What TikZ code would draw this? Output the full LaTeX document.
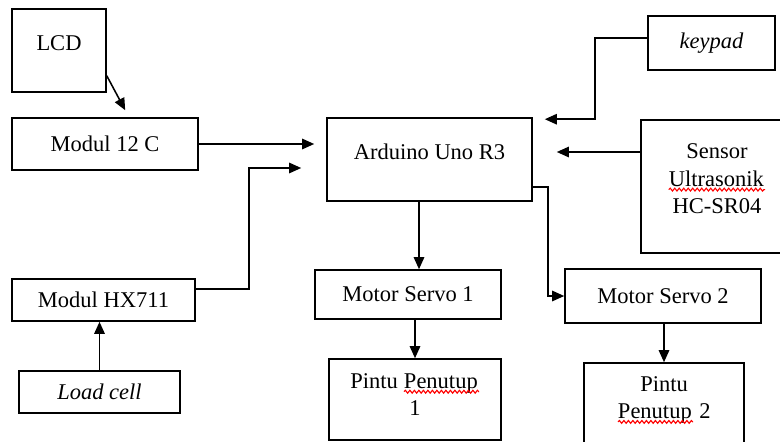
\documentclass[tikz,border=0pt]{standalone}
\usepackage{fontspec}
\setmainfont{Liberation Serif}
\usetikzlibrary{arrows.meta, calc, decorations.pathmorphing}
\tikzset{
	blk/.style  ={rectangle, draw=black, line width=1.1pt, align=center, inner sep=2pt},
	sig/.style  ={-{Triangle[length=3mm, width=2.6mm]}, line width=1.1pt},
	squig/.style={red, line width=0.8pt, decorate, decoration={snake, amplitude=1pt, segment length=3.2pt}},
}
% word marked by the spell checker
\newcommand{\typo}[1]{\tikz[baseline=(w.base)]{\node[draw=none, inner sep=0pt, outer sep=0pt, minimum width=0pt, minimum height=0pt, text depth=, text height=] (w) {#1}; \draw[squig] ([yshift=-2.4pt]w.base west) -- ([yshift=-2.4pt,xshift=1pt]w.base east);}}

\begin{document}
\begin{tikzpicture}[x=0.025cm, y=-0.025cm, font=\fontsize{16}{19.5}\selectfont]
	\clip (0,0) rectangle (780,441);
	\fill[white] (0,0) rectangle (780,441);
	\node[blk, minimum width=2.35cm, minimum height=2.075cm, text depth=10.5pt] (lcd) at (59,50.5) {LCD};
	\node[blk, minimum width=4.65cm, minimum height=1.3cm] (i2c) at (105,144) {Modul 12 C};
	\node[blk, minimum width=5.125cm, minimum height=2.075cm, text depth=10.5pt] (ard) at (429.5,159.5) {Arduino Uno R3};
	\node[blk, minimum width=3.175cm, minimum height=1.35cm] (keypad) at (711.5,43) {\textit{keypad}};
	\node[blk, minimum width=3.8cm, minimum height=3.325cm, text depth=11pt] (sensor) at (717,186.5) {Sensor\\\typo{Ultrasonik}\\HC-SR04};
	\node[blk, minimum width=4.575cm, minimum height=1.05cm] (hx) at (103.5,300) {Modul HX711};
	\node[blk, minimum width=4.025cm, minimum height=1.05cm] (load) at (99.5,392) {\textit{Load cell}};
	\node[blk, minimum width=4.65cm, minimum height=1.225cm] (s1) at (408,294.5) {Motor Servo 1};
	\node[blk, minimum width=4.9cm, minimum height=1.35cm] (s2) at (663,296) {Motor Servo 2};
	\node[blk, minimum width=4.3cm, minimum height=2.025cm, text depth=7pt] (p1) at (415,399.5) {Pintu \typo{Penutup}\\1};
	\node[blk, minimum width=4cm, minimum height=2.175cm, text depth=13pt] (p2) at (664,406.5) {Pintu\\\typo{Penutup} 2};

	\draw[sig] ($(lcd.south east)+(0,-17)$) -- ($(i2c.north west)+(114,-7)$);
	\draw[sig] (i2c.east) -- ($(ard.west |- i2c.east)+(-12,0)$);
	\draw[sig] ($(hx.east)+(0,-11)$) -- ++(53,0) |- ($(ard.west)+(-25,8.5)$);
	\draw[sig] (load.north) -- (load.north |- hx.south);
	\draw[sig] ($(keypad.west)+(0,-5)$) -- ++(-52,0) |- ($(ard.north east)+(12,2)$);
	\draw[sig] ($(sensor.west)+(0,-34.5)$) -- ($(ard.east |- sensor.west)+(24,-34.5)$);
	\draw[sig] ([xshift=-0.2625cm]ard.south) -- ([xshift=-0.2625cm]ard.south |- s1.north);
	\draw[sig] ($(ard.east)+(0,27.5)$) -- ++(15,0) |- (s2.west);
	\draw[sig] (s1.south -| p1.north) -- (p1.north);
	\draw[sig] (s2.south -| p2.north) -- (p2.north);
\end{tikzpicture}
\end{document}
